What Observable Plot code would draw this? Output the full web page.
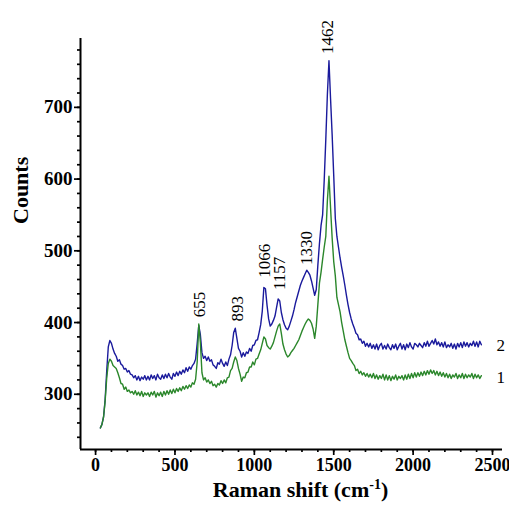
<!DOCTYPE html>
<html><head><meta charset="utf-8">
<script src="https://cdn.jsdelivr.net/npm/d3@7"></script>
<script src="https://cdn.jsdelivr.net/npm/@observablehq/plot@0.6"></script>
<style>html,body{margin:0;padding:0;background:#fff}#chart svg{display:block}</style>
</head><body><div id="chart"></div>
<script>
// Raman shift sampling grid (cm-1)
const shift = d3.range(30, 2431, 10);
// Spectrum 2 (blue)
const series2 = [
253,258,268,292,332,366,375,371,363,357,
353,346,348,342,340,335,336,331,333,328,
327,323,326,320,325,319,324,321,326,320,
325,320,327,322,326,320,328,323,321,327,
322,328,323,329,324,321,329,325,331,326,
332,328,334,330,337,332,338,335,340,343,
349,371,396,383,358,350,353,347,352,346,
348,341,339,336,344,342,349,343,339,345,
340,349,355,368,386,392,378,364,360,352,
358,353,359,357,364,360,368,369,375,376,
386,397,416,449,447,424,405,395,398,403,
409,421,433,430,414,404,397,392,390,395,
402,409,418,428,436,444,452,458,463,468,
473,470,466,458,448,438,446,480,510,535,
550,598,655,718,765,712,662,605,545,520,
505,490,477,465,452,438,425,414,405,398,
392,385,383,376,377,371,374,367,371,366,
371,364,369,363,370,362,368,371,363,368,
363,370,365,362,369,364,370,362,367,371,
363,369,362,370,365,372,366,363,371,369,
366,371,368,365,372,367,374,367,371,375,
370,377,369,373,367,372,366,373,365,369,
366,371,364,370,363,371,366,372,365,373,
367,372,366,371,368,374,367,373,366,374,
369];
// Spectrum 1 (green)
const series1 = [
253,258,268,290,322,343,349,346,340,338,
336,330,323,315,314,307,310,304,306,302,
304,300,305,299,303,298,304,297,302,299,
302,297,303,299,304,296,302,298,303,297,
304,299,305,300,306,301,307,302,308,304,
309,305,311,307,312,308,313,310,316,314,
321,345,398,372,330,320,323,317,320,315,
318,312,314,310,315,313,319,315,320,316,
323,324,333,336,345,352,347,336,328,318,
324,323,330,331,338,338,345,341,349,350,
356,362,371,380,377,368,365,363,367,372,
380,388,395,398,385,370,362,356,352,354,
358,361,364,368,372,376,382,388,393,398,
402,405,403,399,391,378,395,425,455,470,
488,505,520,570,604,560,518,485,465,435,
425,415,400,388,376,367,358,350,347,343,
340,333,335,329,332,327,330,325,329,324,
328,323,329,322,327,321,326,322,328,320,
327,320,326,319,325,321,327,320,325,322,
326,320,327,321,328,322,329,323,330,324,
330,325,331,326,332,327,333,328,334,329,
333,327,332,326,331,325,330,324,329,323,
328,322,327,324,329,322,327,323,329,322,
328,323,327,324,329,322,328,323,327,322,
326];
const peakShift = [655, 893, 1066, 1157, 1330, 1462];
const peakCounts = [399, 393, 454, 437, 472, 766];
const peakLabels = ["655", "893", "1066", "1157", "1330", "1462"];
const seriesNames = ["2", "1"];
const seriesEndCounts = [368, 324];
const xTicks = [0, 500, 1000, 1500, 2000, 2500];
const xMinor = d3.range(0, 2501, 100);
const yTicks = [300, 400, 500, 600, 700];
const yMinor = d3.range(240, 781, 20);

const rows2 = shift.map((s, i) => ({shift: s, counts: series2[i]}));
const rows1 = shift.map((s, i) => ({shift: s, counts: series1[i]}));
const peaks = peakShift.map((s, i) => ({shift: s, counts: peakCounts[i], label: peakLabels[i]}));
const ends = seriesNames.map((n, i) => ({shift: 2525, counts: seriesEndCounts[i], label: n}));

const xDom = [-95, 2563], yDom = [223, 796];
const serif = "'Liberation Serif','Times New Roman',serif";

const chart = Plot.plot({
  width: 509, height: 506,
  marginLeft: 80, marginRight: 7, marginTop: 38, marginBottom: 57,
  style: {fontFamily: serif, background: "#fff", color: "#000"},
  x: {domain: xDom},
  y: {domain: yDom},
  marks: [
    Plot.line(rows2, {x: "shift", y: "counts", stroke: "#1a1a9c", strokeWidth: 1.4}),
    Plot.line(rows1, {x: "shift", y: "counts", stroke: "#2b872b", strokeWidth: 1.4}),
    Plot.ruleX([xDom[0]], {stroke: "#000", strokeWidth: 2}),
    Plot.ruleY([yDom[0]], {stroke: "#000", strokeWidth: 2}),
    Plot.axisY({ticks: yMinor, tickSize: 3, tickFormat: () => "", label: null, strokeWidth: 1.7}),
    Plot.axisY({ticks: yTicks, tickSize: 6, tickPadding: 2, tickFormat: d => String(d), label: null,
      fontSize: 19, fontWeight: "bold", strokeWidth: 1.7}),
    Plot.axisX({ticks: xMinor, tickSize: 3, tickFormat: () => "", label: null, strokeWidth: 1.7}),
    Plot.axisX({ticks: xTicks, tickSize: 6, tickPadding: 3, tickFormat: d => String(d), label: null,
      fontSize: 18, fontWeight: "bold", strokeWidth: 1.7}),
    Plot.text(peaks, {x: "shift", y: "counts", text: "label", rotate: -90, textAnchor: "start",
      dy: -6, fontSize: 17}),
    Plot.text(ends, {x: "shift", y: "counts", text: "label", textAnchor: "start", fontSize: 17}),
    Plot.text(["Counts"], {frameAnchor: "left", rotate: -90, dx: -60, dy: -20, fontSize: 22, fontWeight: "bold"}),
    Plot.text(["Raman shift (cm-1)"], {frameAnchor: "bottom", dx: 9, dy: 47, fontSize: 22, fontWeight: "bold"})
  ]
});
document.getElementById("chart").appendChild(chart);
chart.querySelectorAll("text").forEach(t => {
  if (t.textContent === "Raman shift (cm-1)") {
    t.innerHTML = 'Raman shift (cm<tspan dy="-8" font-size="14">-1</tspan><tspan dy="8">)</tspan>';
  }
});
</script>
</body></html>
